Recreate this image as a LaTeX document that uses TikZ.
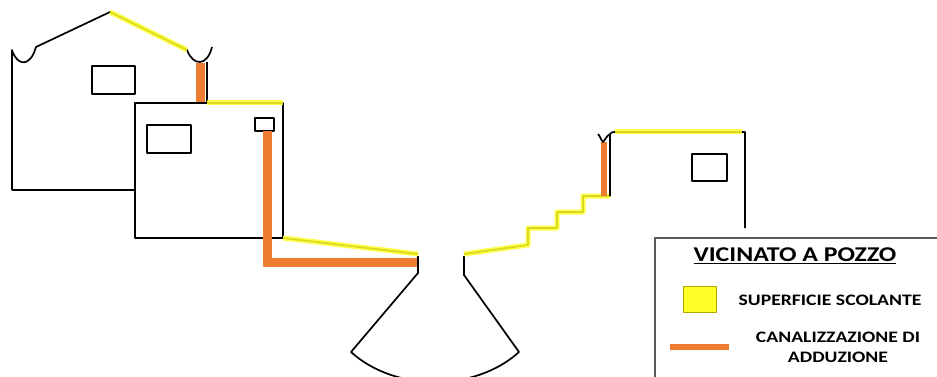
\documentclass[tikz,border=0pt]{standalone}
\usepackage{fontspec}
\newfontfamily\legendfont{Carlito}
\definecolor{roofyellow}{RGB}{255,255,40}
\definecolor{pipeorange}{RGB}{237,125,49}
\definecolor{framegray}{RGB}{90,90,90}
% wide bold legend lettering
\newcommand{\legendtext}[2]{\scalebox{1.23}[1]{\legendfont\bfseries\fontsize{#1}{#1}\selectfont #2}}

\begin{document}
\begin{tikzpicture}[x=1pt,y=1pt,line join=round]
		\tikzstyle{every node}+=[inner sep=0pt]
		\tikzstyle{wall}=[black,line width=1.7pt]
		\tikzstyle{drain}=[roofyellow,opacity=0.85,line width=5pt]
		\tikzstyle{pipe}=[pipeorange,line width=9pt,line join=miter]
		\useasboundingbox (0,0) rectangle (937,-377);
		% left house
		\draw [wall] (12,-190) -- (12,-50) .. controls (17,-66) and (30,-68) .. (36,-47) -- (110,-12) -- (187,-50) .. controls (193,-66) and (207,-67) .. (212,-47);
		\draw [wall] (207,-62) -- (207,-103);
		\draw [wall] (12,-190) -- (135,-190);
		\draw [wall] (92,-66) rectangle (135,-94);
		\draw [drain] (110,-12) -- (187,-50);
		\draw [pipe] (200,-63) -- (200,-103);
		% annex
		\draw [wall] (135,-103) rectangle (283,-238);
		\draw [wall] (147,-125) rectangle (191,-153);
		\draw [wall] (255,-118) rectangle (274,-131);
		\draw [drain] (207,-103) -- (283,-103);
		\draw [wall] (283,-238) -- (418,-254);
		\draw [drain] (283,-238) -- (418,-254);
		\draw [pipe] (267,-131) -- (267,-262) -- (418,-262);
		% well
		\draw [wall] (418,-256) -- (418,-273) -- (351,-352) .. controls (395,-392) and (475,-392) .. (519,-352) -- (464,-275) -- (464,-256);
		% stairs and right house
		\draw [wall] (464,-254) -- (528,-245) -- (528,-228) -- (557,-228) -- (557,-212) -- (583,-212) -- (583,-196) -- (610,-196);
		\draw [drain] (464,-254) -- (528,-245) -- (528,-228) -- (557,-228) -- (557,-212) -- (583,-212) -- (583,-196) -- (610,-196);
		\draw [pipeorange,line width=6pt] (604,-142) -- (604,-196);
		\draw [wall] (610,-196) -- (610,-134) .. controls (606,-136) and (604,-142) .. (603,-142) .. controls (601,-140) and (600,-136) .. (598,-134);
		\draw [wall] (610,-134) .. controls (612,-132) .. (615,-132) -- (745,-132) -- (745,-228);
		\draw [drain] (615,-132) -- (742,-132);
		\draw [wall] (692,-154) rectangle (727,-181);
		% legend
		\draw [framegray,line width=1.4pt] (655,-380) -- (655,-238) -- (940,-238);
		\draw (795,-256) node {\legendtext{21}{\underline{VICINATO A POZZO}}};
		\draw [olive!70!yellow,fill=roofyellow,line width=0.8pt] (683,-286) rectangle (716,-312);
		\draw (830,-300) node {\legendtext{16}{SUPERFICIE SCOLANTE}};
		\draw [pipeorange,line width=6pt] (670,-347) -- (729,-347);
		\draw (838,-337) node {\legendtext{16}{CANALIZZAZIONE DI}};
		\draw (838,-357) node {\legendtext{16}{ADDUZIONE}};
	\end{tikzpicture}
\end{document}
